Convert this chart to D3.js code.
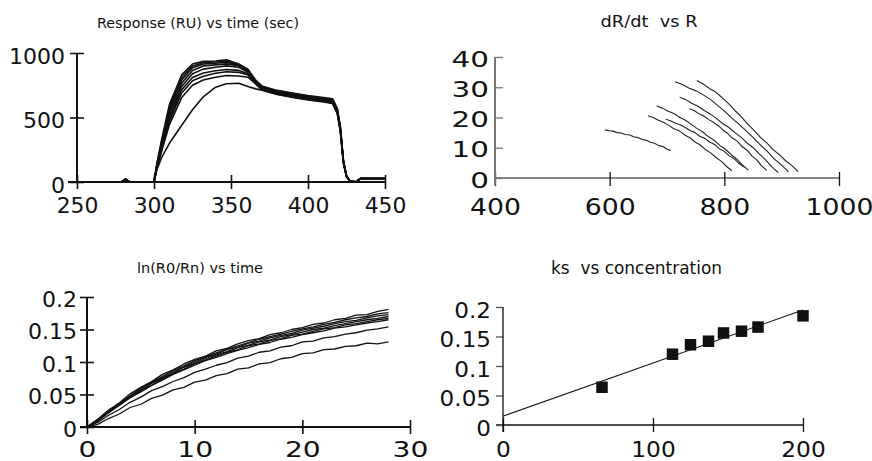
<!DOCTYPE html>
<html>
<head>
<meta charset="utf-8">
<script src="https://cdn.jsdelivr.net/npm/d3@7"></script>
<style>
  html, body { margin: 0; padding: 0; background: #fff; }
  svg { display: block; }
  text { font-family: "DejaVu Sans", sans-serif; fill: #111; }
</style>
</head>
<body>
<svg id="chart" width="872" height="461"></svg>
<script>
// ---------- Panel 1: sensorgrams, Response (RU) vs time (sec) ----------
const respTime = [250, 279, 281.5, 284, 300, 302, 305, 310, 318, 325, 332, 340, 347, 355, 361, 366, 370, 380, 390, 400, 410, 416, 419, 421, 423, 425, 427, 431, 434, 450];
const respA = [0,0,22,0, 0,150,330,600,830,915,935,938,948,915,875,790,745,710,690,670,655,645,570,430,170,50,12,0,27,27];
const respB = [0,0,22,0, 0,145,315,580,810,900,925,930,938,912,868,785,740,705,686,665,650,640,565,425,165,48,12,0,27,27];
const respC = [0,0,22,0, 0,140,300,560,790,885,915,920,928,908,862,780,735,700,680,660,645,635,560,420,160,46,12,0,27,27];
const respD = [0,0,22,0, 0,135,290,540,765,865,900,908,916,902,856,775,730,695,676,656,640,630,555,415,158,45,11,0,27,27];
const respE = [0,0,22,0, 0,130,280,515,740,840,875,890,900,890,850,772,727,692,672,651,636,625,550,410,155,44,11,0,27,27];
const respF = [0,0,22,0, 0,125,265,490,715,810,845,862,872,865,840,768,724,688,668,647,632,620,545,405,152,43,10,0,27,27];
const respG = [0,0,22,0, 0,120,255,470,690,785,820,843,855,850,830,765,720,684,664,643,628,616,540,400,150,42,10,0,27,27];
const respH = [0,0,22,0, 0,115,240,445,655,750,790,812,825,822,812,760,716,680,660,640,624,612,535,395,148,41,10,0,27,27];
const respI = [0,0,22,0, 0,100,190,300,440,560,660,735,762,765,740,722,712,678,656,636,620,608,530,390,145,40,10,0,27,27];
const respXTicks = [250, 300, 350, 400, 450];
const respXLabels = ["250", "300", "350", "400", "450"];
const respYTicks = [0, 500, 1000];
const respYLabels = ["0", "500", "1000"];

// ---------- Panel 2: dR/dt vs R ----------
const rate1 = [[592,15.9],[599,15.6],[606,15.5],[613,15.0],[620,14.9],[627,14.4],[635,14.2],[642,13.6],[649,13.4],[657,12.7],[664,12.5],[671,11.8],[678,11.5],[686,10.7],[693,10.4],[700,9.5],[707,9.1]];
const rate2 = [[667,20.6],[676,20.0],[685,19.1],[694,18.4],[703,17.4],[712,16.3],[722,15.5],[731,14.2],[740,13.3],[749,11.9],[758,10.9],[767,9.4],[776,8.3],[786,6.7],[795,5.5],[804,3.8],[813,2.4]];
const rate3 = [[682,23.8],[692,23.1],[702,22.1],[712,21.3],[722,20.1],[732,19.1],[742,17.8],[752,16.4],[762,15.3],[772,13.7],[782,12.5],[792,10.8],[802,9.5],[812,7.7],[822,6.2],[832,4.2],[842,2.6]];
const rate4 = [[698,19.4],[706,18.9],[715,18.1],[723,17.6],[732,16.7],[740,15.7],[749,15.0],[757,13.8],[766,13.1],[774,11.9],[783,11.1],[791,9.7],[800,8.8],[808,7.4],[817,6.4],[825,4.9],[834,3.7]];
const rate5 = [[714,31.8],[726,31.0],[739,29.7],[751,28.8],[764,27.4],[776,25.9],[788,24.0],[800,22.2],[813,19.8],[825,17.9],[838,15.6],[850,13.4],[863,10.9],[875,8.8],[887,6.3],[899,4.4],[912,2.0]];
const rate6 = [[722,26.7],[733,25.9],[743,24.7],[754,23.7],[765,22.3],[776,21.1],[786,19.7],[797,18.0],[808,16.7],[819,14.9],[829,13.5],[840,11.5],[851,9.9],[862,7.8],[872,6.0],[883,3.7],[894,1.8]];
const rate7 = [[739,22.9],[747,22.3],[756,21.2],[764,20.5],[773,19.3],[781,18.4],[790,17.2],[798,15.8],[806,14.7],[814,13.2],[823,12.1],[831,10.4],[840,9.1],[848,7.3],[857,5.9],[865,4.0],[874,2.5]];
const rate8 = [[752,32.2],[763,31.1],[774,29.6],[785,28.4],[796,26.6],[807,24.7],[818,22.4],[829,20.4],[840,18.0],[851,15.9],[863,13.4],[874,11.6],[885,9.4],[896,7.7],[907,5.7],[918,4.1],[929,2.1]];
const rateXTicks = [400, 600, 800, 1000];
const rateXLabels = ["400", "600", "800", "1000"];
const rateYTicks = [0, 10, 20, 30, 40];
const rateYLabels = ["0", "10", "20", "30", "40"];

// ---------- Panel 3: ln(R0/Rn) vs time ----------
const lnTime = [0,1,2,3,4,5,6,7,8,9,10,11,12,13,14,15,16,17,18,19,20,21,22,23,24,25,26,27,28];
const ln1 = [0,.012,.026,.037,.051,.061,.070,.081,.088,.097,.104,.109,.117,.121,.128,.133,.136,.142,.145,.150,.153,.158,.160,.165,.167,.172,.173,.178,.181];
const ln2 = [0,.011,.024,.037,.048,.060,.069,.078,.087,.094,.102,.108,.114,.120,.125,.130,.135,.139,.143,.147,.151,.154,.158,.161,.165,.168,.170,.174,.176];
const ln3 = [0,.012,.023,.035,.047,.058,.068,.076,.085,.092,.100,.107,.112,.119,.123,.129,.132,.137,.141,.144,.149,.152,.155,.159,.162,.164,.168,.171,.173];
const ln4 = [0,.010,.024,.034,.047,.056,.067,.075,.083,.092,.098,.105,.111,.116,.122,.126,.131,.134,.139,.142,.146,.150,.152,.156,.159,.162,.165,.167,.170];
const ln5 = [0,.011,.022,.035,.045,.056,.064,.074,.082,.089,.097,.103,.109,.115,.119,.125,.128,.133,.136,.141,.143,.147,.151,.153,.157,.159,.162,.165,.167];
const ln6 = [0,.009,.022,.033,.045,.054,.064,.072,.081,.088,.095,.102,.107,.113,.118,.122,.127,.130,.135,.138,.142,.145,.148,.152,.154,.157,.160,.162,.165];
const ln7 = [0,.007,.018,.027,.038,.046,.056,.062,.070,.076,.084,.089,.095,.099,.106,.109,.115,.117,.123,.125,.131,.132,.137,.139,.143,.145,.149,.151,.154];
const ln8 = [0,.004,.013,.020,.030,.035,.044,.049,.057,.061,.069,.072,.079,.082,.089,.091,.097,.099,.105,.107,.113,.114,.119,.120,.124,.125,.129,.128,.131];
const lnXTicks = [0, 10, 20, 30];
const lnXLabels = ["0", "10", "20", "30"];
const lnYTicks = [0, 0.05, 0.1, 0.15, 0.2];
const lnYLabels = ["0", "0.05", "0.1", "0.15", "0.2"];

// ---------- Panel 4: ks vs concentration ----------
const concentration = [66, 113, 125, 137, 147, 159, 170, 200];
const ksValues = [0.064, 0.120, 0.136, 0.142, 0.156, 0.159, 0.166, 0.185];
const fitSlope = 0.0009;
const fitIntercept = 0.015;
const fitRange = [0, 200];
const ksXTicks = [0, 100, 200];
const ksXLabels = ["0", "100", "200"];
const ksYTicks = [0, 0.05, 0.1, 0.15, 0.2];
const ksYLabels = ["0", "0.05", "0.1", "0.15", "0.2"];

// ---------- drawing ----------
const svg = d3.select("#chart");

function bottomAxis(scale, ticks, labels, at, o) {
  const ax = d3.axisBottom(scale).tickValues(ticks)
    .tickFormat(d => labels[ticks.indexOf(d)]).tickSize(0);
  const g = svg.append("g").attr("transform", `translate(0,${at})`).call(ax)
    .attr("font-family", null).attr("font-size", null);
  g.select(".domain").remove();
  g.selectAll(".tick line")
    .attr("y1", -o.tickUp).attr("y2", o.tickDown)
    .attr("stroke", o.tickColor || "#111").attr("stroke-width", o.tickWidth || 1.2);
  g.selectAll(".tick text")
    .attr("y", o.labelY).attr("dy", null)
    .attr("font-size", o.fontSize)
    .attr("transform", `scale(${o.sx},1)`)
    .attr("fill", "#111");
  const r = scale.range();
  svg.append("line")
    .attr("x1", r[0] - (o.extendLeft || 0)).attr("x2", r[1])
    .attr("y1", at).attr("y2", at)
    .attr("stroke", o.lineColor || "#111").attr("stroke-width", o.lineWidth || 1.2);
}

function leftAxis(scale, ticks, labels, at, o) {
  const ax = d3.axisLeft(scale).tickValues(ticks)
    .tickFormat(d => labels[ticks.indexOf(d)]).tickSize(0);
  const g = svg.append("g").attr("transform", `translate(${at},0)`).call(ax)
    .attr("font-family", null).attr("font-size", null);
  g.select(".domain").remove();
  g.selectAll(".tick line")
    .attr("x1", -o.tickLeft).attr("x2", o.tickRight)
    .attr("stroke", o.tickColor || "#111").attr("stroke-width", o.tickWidth || 1.2);
  g.selectAll(".tick text")
    .attr("x", -o.gap / o.sx).attr("y", o.labelDy).attr("dy", null)
    .attr("text-anchor", "end")
    .attr("font-size", o.fontSize)
    .attr("transform", `scale(${o.sx},1)`)
    .attr("fill", "#111");
  const r = scale.range();
  svg.append("line")
    .attr("x1", at).attr("x2", at)
    .attr("y1", r[1]).attr("y2", r[0] + (o.extendDown || 0))
    .attr("stroke", o.lineColor || "#111").attr("stroke-width", o.lineWidth || 1.2);
}

function title(str, cx, baseline, size, width) {
  svg.append("text")
    .attr("x", cx).attr("y", baseline)
    .attr("text-anchor", "middle")
    .attr("font-size", size)
    .attr("textLength", width).attr("lengthAdjust", "spacingAndGlyphs")
    .style("white-space", "pre")
    .text(str);
}

// Panel 1
{
  const x = d3.scaleLinear().domain([250, 450]).range([77, 385]);
  const y = d3.scaleLinear().domain([0, 1000]).range([182, 53]);
  const curves = [respA, respB, respC, respD, respE, respF, respG, respH, respI];
  const line = d3.line().x((d, i) => x(respTime[i])).y(d => y(d));
  svg.append("g").selectAll("path").data(curves).join("path")
    .attr("d", line).attr("fill", "none")
    .attr("stroke", "#111").attr("stroke-width", 1.6).attr("stroke-linejoin", "round");
  bottomAxis(x, respXTicks, respXLabels, 182,
    { tickUp: 7, tickDown: 7, labelY: 31, fontSize: 21, sx: 1.04, extendLeft: 9, lineWidth: 2, tickWidth: 1.6 });
  leftAxis(y, respYTicks, respYLabels, 77,
    { tickLeft: 7, tickRight: 7, gap: 12, labelDy: 10, fontSize: 22, sx: 1.0, lineWidth: 2, tickWidth: 1.6 });
  title("Response (RU) vs time (sec)", 198, 27.5, 14, 202);
}

// Panel 2
{
  const x = d3.scaleLinear().domain([400, 1000]).range([495, 839]);
  const y = d3.scaleLinear().domain([0, 40]).range([178, 57]);
  const curves = [rate1, rate2, rate3, rate4, rate5, rate6, rate7, rate8];
  const line = d3.line().x(d => x(d[0])).y(d => y(d[1]));
  svg.append("g").selectAll("path").data(curves).join("path")
    .attr("d", line).attr("fill", "none")
    .attr("stroke", "#222").attr("stroke-width", 1.1).attr("stroke-linejoin", "round");
  bottomAxis(x, rateXTicks, rateXLabels, 178,
    { tickUp: 6, tickDown: 8, labelY: 37, fontSize: 23, sx: 1.16, lineWidth: 1.2, tickWidth: 1.3 });
  leftAxis(y, rateYTicks, rateYLabels, 495,
    { tickLeft: 0, tickRight: 8, gap: 6, labelDy: 9, fontSize: 21, sx: 1.4,
      lineColor: "#777", lineWidth: 2, tickColor: "#777", tickWidth: 1.3, extendDown: 7 });
  title("dR/dt  vs R", 649, 26.7, 15, 97);
}

// Panel 3
{
  const x = d3.scaleLinear().domain([0, 30]).range([87, 410]);
  const y = d3.scaleLinear().domain([0, 0.2]).range([427, 297]);
  const curves = [ln1, ln2, ln3, ln4, ln5, ln6, ln7, ln8];
  const line = d3.line().x((d, i) => x(lnTime[i])).y(d => y(d));
  svg.append("g").selectAll("path").data(curves).join("path")
    .attr("d", line).attr("fill", "none")
    .attr("stroke", "#111").attr("stroke-width", 1.3).attr("stroke-linejoin", "round");
  bottomAxis(x, lnXTicks, lnXLabels, 427,
    { tickUp: 7, tickDown: 7, labelY: 30, fontSize: 22, sx: 1.28, extendLeft: 7, lineWidth: 2, tickWidth: 1.6 });
  leftAxis(y, lnYTicks, lnYLabels, 87,
    { tickLeft: 7, tickRight: 7, gap: 10, labelDy: 9, fontSize: 21, sx: 1.05, lineWidth: 2, tickWidth: 1.6 });
  title("ln(R0/Rn) vs time", 200, 273, 14, 126);
}

// Panel 4
{
  const x = d3.scaleLinear().domain([0, 200]).range([503, 803]);
  const y = d3.scaleLinear().domain([0, 0.2]).range([425, 307]);
  svg.append("line")
    .attr("x1", x(fitRange[0])).attr("y1", y(fitIntercept + fitSlope * fitRange[0]))
    .attr("x2", x(fitRange[1])).attr("y2", y(fitIntercept + fitSlope * fitRange[1]))
    .attr("stroke", "#111").attr("stroke-width", 1.1);
  const s = 11.5;
  svg.append("g").selectAll("rect").data(concentration).join("rect")
    .attr("x", d => x(d) - s / 2)
    .attr("y", (d, i) => y(ksValues[i]) - s / 2)
    .attr("width", s).attr("height", s).attr("fill", "#111");
  bottomAxis(x, ksXTicks, ksXLabels, 425,
    { tickUp: 7, tickDown: 7, labelY: 32, fontSize: 22, sx: 1.06, extendLeft: 7, lineWidth: 1.3, tickWidth: 1.3 });
  leftAxis(y, ksYTicks, ksYLabels, 503,
    { tickLeft: 7, tickRight: 0, gap: 12, labelDy: 10, fontSize: 22, sx: 1.05, lineWidth: 1.3, tickWidth: 1.3, tickColor: "#555", extendDown: 7 });
  title("ks  vs concentration", 636.5, 274, 17, 171);
}
</script>
</body>
</html>
